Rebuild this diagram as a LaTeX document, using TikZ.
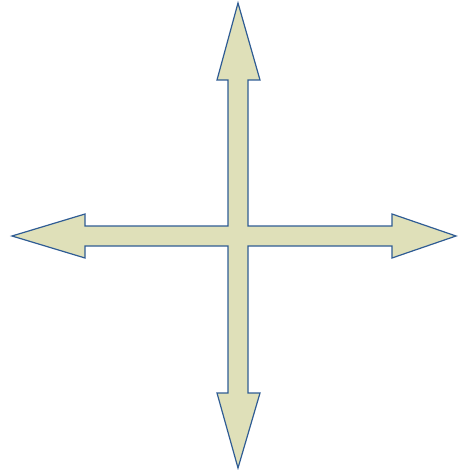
\documentclass[tikz,border=0pt]{standalone}
\definecolor{arrfill}{HTML}{DFE0B9}
\definecolor{arrline}{HTML}{2F5C94}
\begin{document}
\begin{tikzpicture}[x=1pt,y=-1pt,
  crossarrow/.style={fill=arrfill,draw=arrline,line width=1.2pt,line join=miter}]
\useasboundingbox (0,0) rectangle (457,470);
\draw[crossarrow] (238,3) -- (260,80) -- (248,80) -- (248,226) -- (392,226) -- (392,214)
  -- (456,236) -- (392,258) -- (392,246) -- (248,246) -- (248,393) -- (260,393)
  -- (238,468) -- (217,393) -- (228,393) -- (228,246) -- (85,246) -- (85,258)
  -- (12,236) -- (85,214) -- (85,226) -- (228,226) -- (228,80) -- (217,80) -- cycle;
\end{tikzpicture}
\end{document}
